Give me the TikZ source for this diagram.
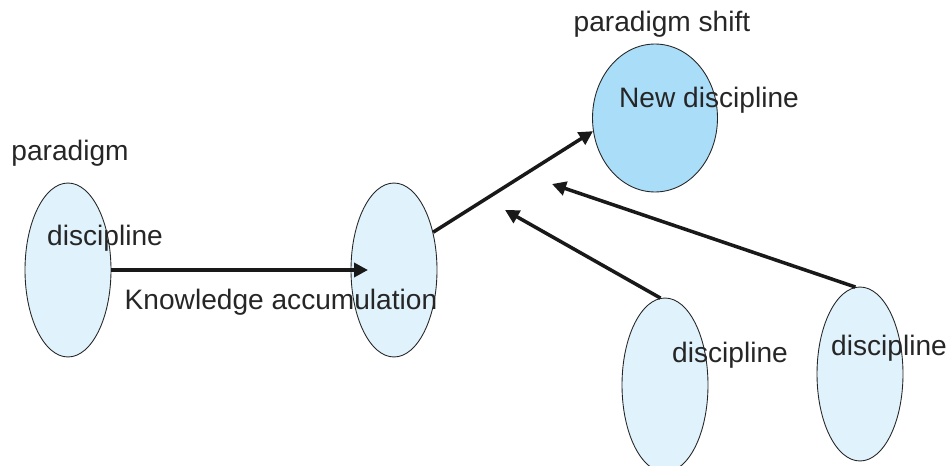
\documentclass[tikz,border=0pt]{standalone}
\usepackage{fontspec}
\setmainfont{Liberation Sans}
\usetikzlibrary{shapes.geometric}
\usetikzlibrary{arrows.meta}
\definecolor{blue1}{RGB}{224, 242, 251}
\definecolor{blue2}{RGB}{170, 221, 248}

\begin{document}
\begin{tikzpicture}[x=0.02cm, y=-0.02cm, line width=2pt,
  disc/.style={ellipse, draw=black!85, line width=0.5pt, fill=blue1, inner sep=0pt, minimum width=1.72cm, minimum height=3.48cm},
  lbl/.style={font=\fontsize{16}{19}\selectfont, text=black!85, inner sep=0pt},
  flow/.style={-{Triangle[length=0.28cm, width=0.28cm]}, draw=black!90}]
  \useasboundingbox (0,0) rectangle (950,466);
  \node[disc] (d1) at (68,270) {};
  \node[disc] (d2) at (394,270) {};
  \node[disc, fill=blue2, minimum width=2.5cm, minimum height=2.96cm] (d3) at (655,118) {};
  \node[disc] (d4) at (665,385) {};
  \node[disc] (d5) at (860,374) {};
  \coordinate (c1) at (368,270);
  \coordinate (c2) at (505,210);
  \coordinate (c3) at (552,184);
  \foreach \from/\to in {d1.east/c1, d2.44/d3.192, d4.93/c2, d5.93/c3}
   \draw[flow] (\from) -- (\to);
  \node[lbl] (t1) at (70,153) {paradigm};
  \node[lbl] (t2) at (105,238) {discipline};
  \node[lbl] (t3) at (281,302) {Knowledge accumulation};
  \node[lbl] (t4) at (662,24) {paradigm shift};
  \node[lbl] (t5) at (709,100) {New discipline};
  \node[lbl] (t6) at (730,355) {discipline};
  \node[lbl] (t7) at (889,348) {discipline};
\end{tikzpicture}
\end{document}
